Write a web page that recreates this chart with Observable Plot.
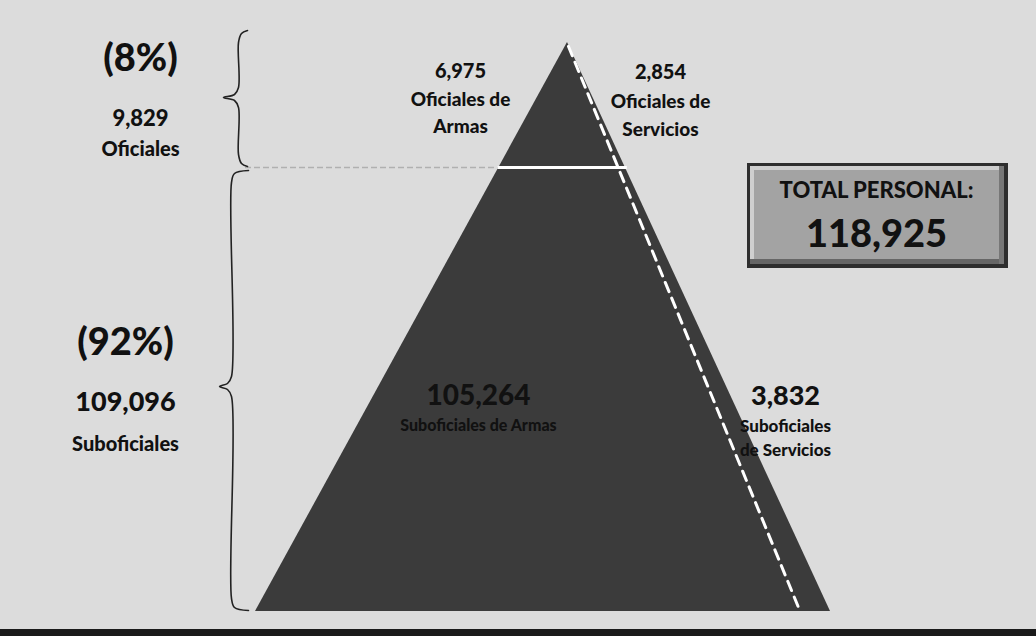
<!DOCTYPE html>
<html>
<head>
<meta charset="utf-8">
<script src="https://cdn.jsdelivr.net/npm/d3@7"></script>
<script src="https://cdn.jsdelivr.net/npm/@observablehq/plot@0.6"></script>
<style>
  html, body { margin: 0; padding: 0; background: #dcdcdc; }
  #chart svg { display: block; }
</style>
</head>
<body>
<div id="chart"></div>
<script>
// ---------- DATA ----------
const groups = ["Oficiales", "Suboficiales"];
const groupTotals = [9829, 109096];
const groupShares = ["(8%)", "(92%)"];
const subNames = [["Oficiales de", "Armas"], ["Oficiales de", "Servicios"], ["Suboficiales de Armas"], ["Suboficiales", "de Servicios"]];
const subValues = [6975, 2854, 105264, 3832];
const totalLabel = "TOTAL PERSONAL:";
const totalValue = 118925;

// ---------- LAYOUT (pixel coordinates) ----------
const W = 1036, H = 636;
const apex = [567, 42];
const baseY = 611, baseL = 255, baseR = 830;
const splitY = 167;
const dashTop = [568, 46], dashBottom = [798, 607];
const groupPos = [ {x: 140, share: 70, val: 125, name: 155, shareSize: 38, valSize: 22, nameSize: 20},
                   {x: 125, share: 354, val: 410, name: 450, shareSize: 38, valSize: 27, nameSize: 20} ];
const subPos = [ {x: 460, val: 77, lines: [105, 132], valSize: 20, nameSize: 19},
                 {x: 660, val: 78, lines: [107, 135], valSize: 20, nameSize: 19},
                 {x: 478, val: 404, lines: [430], valSize: 28, nameSize: 16},
                 {x: 785, val: 404, lines: [431, 455], valSize: 27, nameSize: 17} ];
const box = {x1: 747, x2: 1008, y1: 163, y2: 268};
const braces = [ {top: 30, bot: 166, mid: 97, xv: 238, xt: 223, xe: 247},
                 {top: 170, bot: 610, mid: 386, xv: 231, xt: 219, xe: 248} ];

const fmt = d3.format(",");
const font = "Lato, 'Open Sans', sans-serif";

const leftEdgeX = y => apex[0] + (baseL - apex[0]) * (y - apex[1]) / (baseY - apex[1]);
const rightEdgeX = y => apex[0] + (baseR - apex[0]) * (y - apex[1]) / (baseY - apex[1]);

// pyramid outline
const pyramid = [ {y: apex[1], x1: apex[0], x2: apex[0]}, {y: baseY, x1: baseL, x2: baseR} ];

// brace polylines
function bracePoints(b) {
  const {top, bot, mid, xv, xt, xe} = b;
  return [ [xe, top], [xv + 3, top + 3], [xv, top + 12], [xv, mid - 10], [xv - 4, mid - 3], [xt, mid],
           [xv - 4, mid + 3], [xv, mid + 10], [xv, bot - 12], [xv + 3, bot - 3], [xe, bot] ];
}

// text table
const texts = [];
groups.forEach((g, i) => {
  const p = groupPos[i];
  texts.push({x: p.x, y: p.share, t: groupShares[i], s: p.shareSize});
  texts.push({x: p.x, y: p.val, t: fmt(groupTotals[i]), s: p.valSize});
  texts.push({x: p.x, y: p.name, t: g, s: p.nameSize});
});
subValues.forEach((v, i) => {
  const p = subPos[i];
  texts.push({x: p.x, y: p.val, t: fmt(v), s: p.valSize});
  subNames[i].forEach((line, j) => texts.push({x: p.x, y: p.lines[j], t: line, s: p.nameSize}));
});
texts.push({x: 876, y: 197, t: totalLabel, s: 22});
texts.push({x: 876, y: 246, t: fmt(totalValue), s: 38});

const chart = Plot.plot({
  width: W, height: H,
  margin: 0,
  x: {domain: [0, W], range: [0, W], axis: null},
  y: {domain: [0, H], range: [0, H], axis: null},
  style: {background: "#dcdcdc", fontFamily: font},
  marks: [
    // bottom dark bar
    Plot.rect([{x1: 0, x2: W, y1: 629, y2: H}], {x1: "x1", x2: "x2", y1: "y1", y2: "y2", fill: "#1a1a1a"}),
    // faint guide line from brace junction
    Plot.ruleY([splitY], {x1: 245, x2: leftEdgeX(splitY), stroke: "#b0b0b0", strokeWidth: 1.5, strokeDasharray: "6,3"}),
    // pyramid
    Plot.areaX(pyramid, {y: "y", x1: "x1", x2: "x2", fill: "#3b3b3b"}),
    // split line
    Plot.ruleY([splitY], {x1: leftEdgeX(splitY) - 1, x2: rightEdgeX(splitY) + 2, stroke: "white", strokeWidth: 3}),
    // armas / servicios dashed divider
    Plot.line([dashTop, dashBottom], {stroke: "white", strokeWidth: 3, strokeDasharray: "10,7"}),
    // braces
    ...braces.map(b => Plot.line(bracePoints(b), {curve: "catmull-rom", stroke: "#222", strokeWidth: 1.6})),
    // total box (bevel)
    Plot.rect([box], {x1: "x1", x2: "x2", y1: "y1", y2: "y2", fill: "#2e2e2e"}),
    Plot.rect([box], {x1: d => d.x1 + 3, x2: d => d.x2 - 4, y1: d => d.y1 + 3, y2: d => d.y2 - 4, fill: "#cfcfcf"}),
    Plot.rect([box], {x1: d => d.x1 + 3, x2: d => d.x2 - 4, y1: d => d.y2 - 9, y2: d => d.y2 - 4, fill: "#666"}),
    Plot.rect([box], {x1: d => d.x2 - 9, x2: d => d.x2 - 4, y1: d => d.y1 + 3, y2: d => d.y2 - 4, fill: "#777"}),
    Plot.rect([box], {x1: d => d.x1 + 7, x2: d => d.x2 - 9, y1: d => d.y1 + 7, y2: d => d.y2 - 9, fill: "#a3a3a3"}),
    // texts
    Plot.text(texts, {x: "x", y: "y", text: "t", fontSize: "s", fill: "#111", fontWeight: 900,
                      textAnchor: "middle", lineAnchor: "bottom", fontFamily: font})
  ]
});
document.getElementById("chart").appendChild(chart);
</script>
</body>
</html>
